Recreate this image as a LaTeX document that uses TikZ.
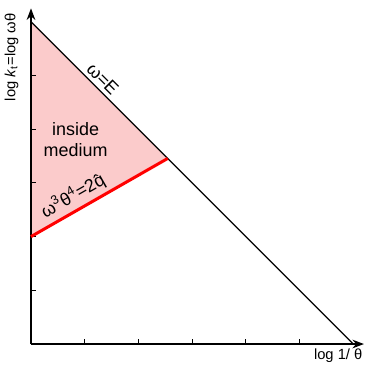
\documentclass[tikz,border=0pt]{standalone}
\usepackage{fontspec}
\setmainfont{Liberation Sans}
\usepackage{xcolor}
\usetikzlibrary{positioning, calc, arrows.meta}
\definecolor{medpink}{HTML}{FBCBCB}
\definecolor{qred}{HTML}{FF0000}

\begin{document}
\begin{tikzpicture}[>=Stealth, every node/.style={font=\fontsize{9.5}{11}\selectfont},
  axislabel/.style={font=\fontsize{7.8}{9}\selectfont}]
\useasboundingbox (-0.577,-0.372) rectangle (6.238,6.406);
% Corner points
\coordinate (o) at (0,0);
\coordinate (top) at (0,6);
\coordinate (bot) at (6,0);
\coordinate (qlow) at (0,2);
\coordinate (qhigh) at (2.545,3.455);
\coordinate (xend) at (6.2,0);
\coordinate (yend) at (0,6.25);

% Medium region
\fill[medpink] (top) -- (qhigh) -- (qlow) -- cycle;

% Axes and ticks
\draw[->, line width=0.7pt] (o) -- (xend);
\draw[->, line width=0.7pt] (o) -- (yend);
\foreach \k in {1,...,5} {
  \draw[line width=0.5pt] (\k,0) -- (\k,0.1);
  \draw[line width=0.5pt] (0,\k) -- (0.1,\k);
}

% Boundaries
\draw[line width=0.7pt] (top) -- (bot);
\draw[qred, line width=1.6pt] (qlow) -- (qhigh);

% Labels
\path (top) -- (bot) node[pos=0.2, sloped, above, inner sep=2pt] (elab) {ω=E};
\path (qlow) -- (qhigh) node[pos=0.36, sloped, above, inner sep=2.5pt] (qlab) {ω\textsuperscript{3}θ\textsuperscript{4}=2\^{q}};
\node[align=center] (inside) at (0.83,3.8) {inside\\medium};
\node[axislabel] (xlab) at (5.72,-0.22) {log 1/ θ};
\node[axislabel, rotate=90] (ylab) at (-0.36,5.34) {log \textit{k}\textsubscript{t}=log ωθ};
\end{tikzpicture}
\end{document}
